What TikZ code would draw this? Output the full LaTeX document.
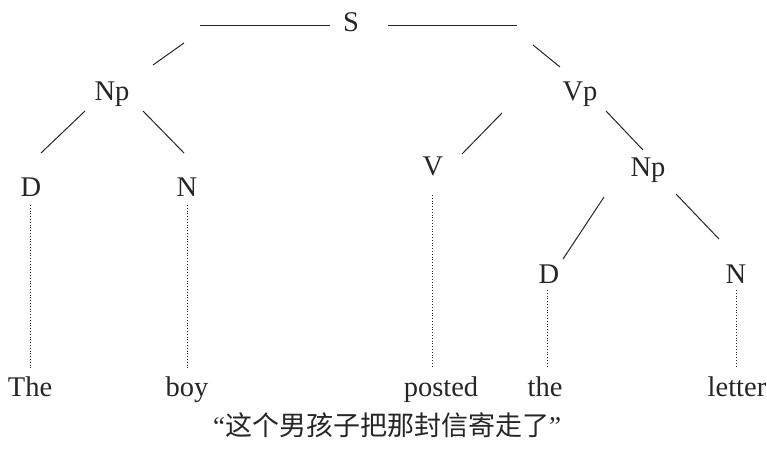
\documentclass[tikz,border=0pt]{standalone}
\usepackage{fontspec}
\setmainfont{Liberation Serif}
\newfontfamily\cjk{Noto Sans CJK SC}
\definecolor{ink}{HTML}{262626}
\begin{document}
\begin{tikzpicture}[x=1pt,y=-1pt,
  lbl/.style={anchor=base,inner sep=0pt,text=ink,font=\fontsize{28.5}{33}\selectfont},
  glosslbl/.style={anchor=base,inner sep=0pt,text=ink,font=\fontsize{27}{32}\selectfont},
  branch/.style={draw=ink,line width=1pt},
  leafline/.style={draw=ink,line width=0.9pt,dash pattern=on 0.9pt off 1.9pt}]
\useasboundingbox[fill=white] (0,0) rectangle (767,450);
% nodes
\node[lbl] (S)   at (351,31) {S};
\node[lbl] (NP1) at (112,100) {Np};
\node[lbl] (VP)  at (580,100) {Vp};
\node[lbl] (D1)  at (31,196) {D};
\node[lbl] (N1)  at (187,196) {N};
\node[lbl] (V)   at (433,175) {V};
\node[lbl] (NP2) at (648,176) {Np};
\node[lbl] (D2)  at (549,283) {D};
\node[lbl] (N2)  at (736,283) {N};
\node[lbl] (w1)  at (30,396) {The};
\node[lbl] (w2)  at (187,396) {boy};
\node[lbl] (w3)  at (441,396) {posted};
\node[lbl] (w4)  at (545,396) {the};
\node[lbl] (w5)  at (737,396) {letter};
\node[glosslbl] (gloss) at (387,435) {“{\cjk 这个男孩子把那封信寄走了}”};
% connector end points
\coordinate (sl1) at (200,25); \coordinate (sl2) at (330,25);
\coordinate (sr1) at (388,25); \coordinate (sr2) at (517,25);
\coordinate (snp-a) at (184,43); \coordinate (snp-b) at (153,65);
\coordinate (svp-a) at (533,45); \coordinate (svp-b) at (560,67);
\coordinate (npd-a) at (85,111); \coordinate (npd-b) at (41,153);
\coordinate (npn-a) at (143,111); \coordinate (npn-b) at (184,153);
\coordinate (vpv-a) at (502,113); \coordinate (vpv-b) at (462,154);
\coordinate (vpnp-a) at (606,111); \coordinate (vpnp-b) at (643,150);
\coordinate (np2d-a) at (604,197); \coordinate (np2d-b) at (563,259);
\coordinate (np2n-a) at (676,194); \coordinate (np2n-b) at (719,239);
% branches
\draw[branch] (sl1) -- (sl2);
\draw[branch] (sr1) -- (sr2);
\draw[branch] (snp-a) -- (snp-b);
\draw[branch] (svp-a) -- (svp-b);
\draw[branch] (npd-a) -- (npd-b);
\draw[branch] (npn-a) -- (npn-b);
\draw[branch] (vpv-a) -- (vpv-b);
\draw[branch] (vpnp-a) -- (vpnp-b);
\draw[branch] (np2d-a) -- (np2d-b);
\draw[branch] (np2n-a) -- (np2n-b);
% dotted leaf lines
\draw[leafline] (30,205) -- (30,368);
\draw[leafline] (187,205) -- (187,368);
\draw[leafline] (432,195) -- (432,368);
\draw[leafline] (547,290) -- (547,367);
\draw[leafline] (736,290) -- (736,367);
\end{tikzpicture}
\end{document}
